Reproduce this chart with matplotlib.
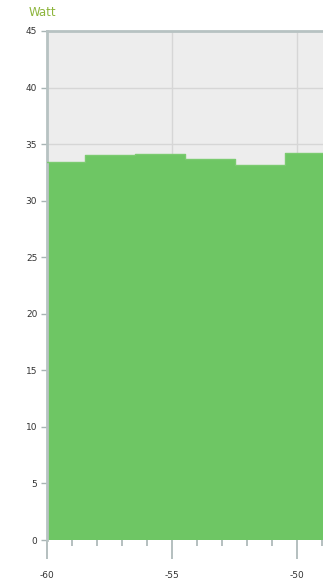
import matplotlib
matplotlib.use("Agg")
import matplotlib.pyplot as plt
import numpy as np

x_vals = [-61.5, -59.5, -57.5, -55.5, -53.5, -51.5, -49.5, -47.5]
watt = [33.39, 33.39, 34.04, 34.16, 33.66, 33.13, 34.22, 34.22]
y_ticks = [0, 5, 10, 15, 20, 25, 30, 35, 40, 45]
x_major = [-60, -55, -50]
x_minor = list(range(-60, -48))

fig = plt.figure(figsize=(3.23, 5.79), dpi=100)
ax = fig.add_axes([47/323, 1 - 540/579, 1 - 47/323, (540 - 31)/579])
ax.set_facecolor("#EDEDED")
ax.set_xlim(-60, -48.96)
ax.set_ylim(0, 45)

ax.fill_between(x_vals, watt, 0, step="mid", color="#6EC664", linewidth=0, zorder=2)
ax.step(x_vals, watt, where="mid", color="#7BCB70", linewidth=1, zorder=3)

ax.set_yticks(y_ticks)
ax.set_xticks(x_major)
ax.set_xticks(x_minor, minor=True)
ax.set_xticklabels([str(v) for v in x_major])
ax.grid(True, which="major", color="#D6D6D6", linewidth=1, zorder=1)
ax.set_axisbelow(True)

for s in ["right", "bottom"]:
    ax.spines[s].set_visible(False)
for s in ["top", "left"]:
    ax.spines[s].set_color("#B7C2C2")
    ax.spines[s].set_linewidth(2)

ax.tick_params(axis="y", which="major", length=4, width=1, color="#A8B4B4",
               labelsize=6.5, labelcolor="#333333", pad=3)
ax.tick_params(axis="x", which="major", length=14, width=1.2, color="#A8B4B4",
               labelsize=6.5, labelcolor="#333333", pad=8)
ax.tick_params(axis="x", which="minor", length=4, width=1.2, color="#A8B4B4")

fig.text(29/323, 1 - 12/579, "Watt", color="#8DB53C", fontsize=8.5,
         ha="left", va="center")

fig.savefig("out.png", dpi=100)
